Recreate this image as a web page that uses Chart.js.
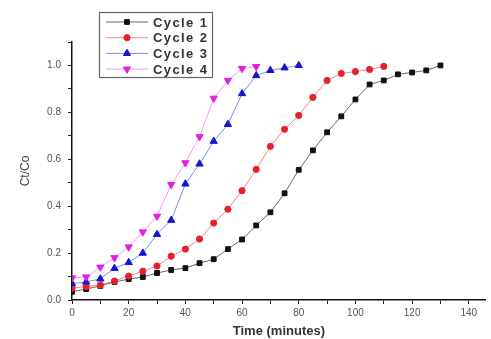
<!DOCTYPE html>
<html>
<head>
<meta charset="utf-8">
<script src="https://cdn.jsdelivr.net/npm/chart.js@4/dist/chart.umd.min.js"></script>
<style>
  html, body { margin: 0; padding: 0; background: #fff; }
  #wrap { width: 491px; height: 339px; position: relative; }
</style>
</head>
<body>
<div id="wrap"><canvas id="myChart"></canvas></div>
<script>
// sampling times (minutes) and Ct/Co for each cycle
var time1 = [0,5,10,15,20,25,30,35,40,45,50,55,60,65,70,75,80,85,90,95,100,105,110,115,120,125,130];
var cycle1 = [0.035,0.047,0.06,0.077,0.089,0.098,0.115,0.128,0.136,0.157,0.174,0.217,0.258,0.318,0.374,0.455,0.555,0.638,0.715,0.783,0.855,0.919,0.936,0.962,0.970,0.979,1.0];

var time2 = [0,5,10,15,20,25,30,35,40,45,50,55,60,65,70,75,80,85,90,95,100,105,110];
var cycle2 = [0.05,0.057,0.064,0.081,0.102,0.123,0.145,0.187,0.217,0.26,0.328,0.387,0.466,0.557,0.655,0.728,0.787,0.864,0.936,0.966,0.974,0.983,0.996];

var time3 = [0,5,10,15,20,25,30,35,40,45,50,55,60,65,70,75,80];
var cycle3 = [0.07,0.077,0.09,0.135,0.16,0.2,0.28,0.34,0.495,0.58,0.677,0.749,0.88,0.957,0.979,0.99,1.0];

var time4 = [0,5,10,15,20,25,30,35,40,45,50,55,60,65];
var cycle4 = [0.094,0.098,0.14,0.18,0.226,0.29,0.357,0.492,0.585,0.696,0.86,0.936,0.987,0.995];

var seriesNames = ["Cycle 1", "Cycle 2", "Cycle 3", "Cycle 4"];
var xTicks = [0,10,20,30,40,50,60,70,80,90,100,110,120,130,140];
var yTicks = [0,0.1,0.2,0.3,0.4,0.5,0.6,0.7,0.8,0.9,1.0,1.1];

function toPoints(xs, ys) {
	var pts = [];
	for (var i = 0; i < xs.length; i++) {
		pts.push({x: xs[i], y: ys[i]});
	}
	return pts;
}

var styles = [
	{ line: "rgba(40,40,40,0.7)", fill: "#111111", point: "rect", rot: 0, r: 3.4 },
	{ line: "rgba(240,80,90,0.7)", fill: "#e8202c", point: "circle", rot: 0, r: 3.1 },
	{ line: "rgba(70,90,230,0.7)", fill: "#1515d0", point: "triangle", rot: 0, r: 4.2 },
	{ line: "rgba(240,110,230,0.7)", fill: "#e020e0", point: "triangle", rot: 180, r: 4.2 }
];
var allData = [toPoints(time1, cycle1), toPoints(time2, cycle2), toPoints(time3, cycle3), toPoints(time4, cycle4)];

var datasets = [];
for (var k = 0; k < 4; k++) {
	var s = styles[k];
	datasets.push({
		label: seriesNames[k],
		data: allData[k],
		borderColor: s.line,
		borderWidth: 1,
		backgroundColor: s.fill,
		pointBackgroundColor: s.fill,
		pointBorderColor: s.fill,
		pointBorderWidth: 1,
		pointStyle: s.point,
		pointRotation: s.rot,
		pointRadius: s.r,
		pointHoverRadius: s.r,
		tension: 0,
		fill: false,
		order: 4 - k
	});
}

// legend drawn as a boxed key inside the plot, top left
var boxLegend = {
	id: "boxLegend",
	afterDraw: function(chart) {
		var ctx = chart.ctx;
		ctx.save();
		ctx.fillStyle = "#fff";
		ctx.fillRect(99.5, 12.5, 113, 65);
		ctx.strokeStyle = "#666";
		ctx.lineWidth = 1.2;
		ctx.strokeRect(99.5, 12.5, 113, 65);
		ctx.font = "bold 13px Arial, 'Liberation Sans', sans-serif";
		ctx.letterSpacing = "1.4px";
		ctx.textBaseline = "middle";
		for (var i = 0; i < 4; i++) {
			var y = 22 + i * 15.7;
			var s = styles[i];
			ctx.strokeStyle = s.line;
			ctx.lineWidth = 1;
			ctx.beginPath();
			ctx.moveTo(106, y);
			ctx.lineTo(148, y);
			ctx.stroke();
			ctx.fillStyle = s.fill;
			ctx.strokeStyle = s.fill;
			Chart.helpers.drawPoint(ctx, { pointStyle: s.point, radius: s.r, rotation: s.rot, borderWidth: 1 }, 127, y);
			ctx.fillStyle = "#333";
			ctx.fillText(seriesNames[i], 153, y + 1);
		}
		ctx.restore();
	}
};

var tickFont = { family: "Arial, 'Liberation Sans', sans-serif", size: 10 };

var ctx = document.getElementById("myChart").getContext("2d");
var chart = new Chart(ctx, {
	type: "line",
	data: { datasets: datasets },
	options: {
		responsive: true,
		maintainAspectRatio: false,
		devicePixelRatio: 1,
		animation: false,
		layout: { padding: { top: 42, right: 0, bottom: 0, left: 0 } },
		plugins: {
			legend: { display: false },
			tooltip: { enabled: false }
		},
		scales: {
			x: {
				type: "linear",
				min: 0,
				max: 146,
				afterBuildTicks: function(scale) {
					scale.ticks = xTicks.map(function(v) { return { value: v }; });
				},
				afterFit: function(scale) { scale.height = 39; },
				border: { display: true, color: "#111", width: 1.5 },
				grid: { drawOnChartArea: false, drawTicks: true, tickLength: 4, color: "#222", tickWidth: 1 },
				ticks: {
					color: "#555",
					font: tickFont,
					padding: 3,
					maxRotation: 0,
					autoSkip: false,
					callback: function(v) { return v % 20 === 0 ? String(v) : ""; }
				},
				title: {
					display: true,
					text: "Time (minutes)",
					color: "#333",
					font: { family: "Arial, 'Liberation Sans', sans-serif", size: 13, weight: "bold" },
					padding: { top: 0, bottom: 0 }
				}
			},
			y: {
				min: 0,
				max: 1.1,
				afterBuildTicks: function(scale) {
					scale.ticks = yTicks.map(function(v) { return { value: v }; });
				},
				afterFit: function(scale) { scale.width = 72; },
				border: { display: true, color: "#111", width: 1.5 },
				grid: { drawOnChartArea: false, drawTicks: true, tickLength: 4, color: "#222", tickWidth: 1 },
				ticks: {
					color: "#555",
					font: tickFont,
					padding: 7,
					autoSkip: false,
					callback: function(v) {
						var n = Math.round(v * 10);
						return (n % 2 === 0 && n <= 10) ? (n / 10).toFixed(1) : "";
					}
				},
				title: {
					display: true,
					text: "Ct/Co",
					color: "#444",
					font: { family: "Arial, 'Liberation Sans', sans-serif", size: 12 },
					padding: { top: 18, bottom: 0 }
				}
			}
		}
	},
	plugins: [boxLegend]
});
</script>
</body>
</html>
